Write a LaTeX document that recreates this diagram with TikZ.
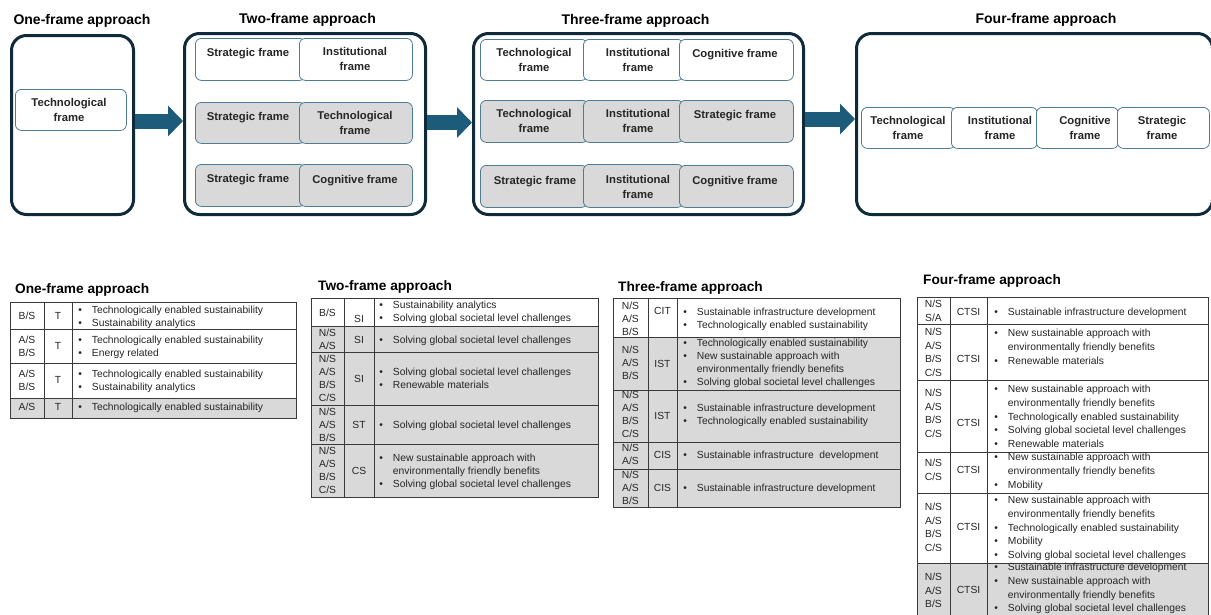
\documentclass[tikz,border=0pt]{standalone}
\usepackage{fontspec}
\setmainfont{Liberation Sans}
\usetikzlibrary{arrows.meta}
\definecolor{navy}{HTML}{0E2A3B}
\definecolor{cellb}{HTML}{4F7C95}
\definecolor{arrc}{HTML}{1D5B7B}
\definecolor{gfill}{HTML}{D9D9D9}
\definecolor{tl}{HTML}{3A3A3A}
\definecolor{txt}{HTML}{262626}
\newcommand\bul[1]{\makebox[13.5pt][l]{\textbullet}#1}
\newcommand\bcont[1]{\hspace*{13.5pt}#1}
\newcommand\trow[7]{\draw[tline, fill=#7] (#1,#5) rectangle (#4,#6); \draw[tline] (#2,#5) -- (#2,#6) (#3,#5) -- (#3,#6);}
\newcommand\rtext[7]{%
  \node[ct] (#1a) at (\xa,#2-3.9) {#5};
  \node[ct] (#1b) at (\xb,#3-3.9) {#6};
  \node[bt] (#1c) at (\xc,#4-3.9) {#7};}
\begin{document}
\begin{tikzpicture}[x=1pt,y=-1pt,
 bigbox/.style={draw=navy, line width=3pt, rounded corners=15pt, anchor=north west, inner sep=0},
 fcell/.style={draw=cellb, line width=0.8pt, rounded corners=6pt, anchor=north west, inner sep=0},
 ftext/.style={font=\bfseries\fontsize{11.3}{15}\selectfont, align=center, inner sep=0, text=txt},
 ttl/.style={font=\bfseries\fontsize{14}{16}\selectfont, anchor=base, inner sep=0, text=black},
 btl/.style={font=\bfseries\fontsize{13.7}{16}\selectfont, anchor=base west, inner sep=0, text=black},
 arr/.style={draw=arrc, line width=15pt, -{Triangle[length=15pt 0,width=30pt 0]}},
 tline/.style={draw=tl, line width=0.8pt},
 ct/.style={font=\fontsize{10.3}{13}\selectfont, align=center, inner sep=0, anchor=north, text=txt},
 bt/.style={font=\fontsize{10.3}{13}\selectfont, align=left, inner sep=0, anchor=north west, text=txt},
]
\useasboundingbox (0,0) rectangle (1211,614);
\clip (0,0) rectangle (1211,614);
\fill[white] (0,0) rectangle (1211,614);

% ---------- top titles ----------
\node[ttl] (tt1) at (82,24.3) {One-frame approach};
\node[ttl] (tt2) at (307.5,23.5) {Two-frame approach};
\node[ttl] (tt3) at (635.5,24) {Three-frame approach};
\node[ttl] (tt4) at (1046,23.5) {Four-frame approach};

% ---------- big boxes ----------
\node[bigbox, minimum width=122pt, minimum height=179pt] (b1) at (10,34) {};
\node[bigbox, minimum width=241pt, minimum height=181pt] (b2) at (183,32) {};
\node[bigbox, minimum width=330pt, minimum height=181pt] (b3) at (472,32) {};
\node[bigbox, minimum width=356pt, minimum height=181pt] (b4) at (855,32) {};

% ---------- arrows ----------
\draw[arr] ([yshift=4pt]b1.east) -- ([yshift=4pt]b1.east -| b2.west);
\draw[arr] ([yshift=1.5pt]b2.east) -- ([yshift=1.5pt]b2.east -| b3.west);
\draw[arr] ([yshift=5pt]b3.east) -- ([yshift=5pt]b3.east -| b4.west);

% ---------- one-frame ----------
\node[fcell, fill=white, minimum width=111pt, minimum height=41pt] (c11) at (15,89) {};
\node[ftext] (c11t) at (69,110) {Technological\\frame};

% ---------- two-frame ----------
\node[fcell, fill=white, minimum width=110pt, minimum height=42pt] (c21) at (195,38) {};
\node[fcell, fill=white, minimum width=113pt, minimum height=42pt] (c22) at (299,38) {};
\node[fcell, fill=gfill, minimum width=110pt, minimum height=41pt] (c23) at (195,102) {};
\node[fcell, fill=gfill, minimum width=113pt, minimum height=41pt] (c24) at (299,102) {};
\node[fcell, fill=gfill, minimum width=110pt, minimum height=42pt] (c25) at (195,164) {};
\node[fcell, fill=gfill, minimum width=113pt, minimum height=42pt] (c26) at (299,164) {};
\node[ftext] (c21t) at (248,54) {Strategic frame};
\node[ftext] (c22t) at (355,59) {Institutional\\frame};
\node[ftext] (c23t) at (248,118) {Strategic frame};
\node[ftext] (c24t) at (355,123) {Technological\\frame};
\node[ftext] (c25t) at (248,180) {Strategic frame};
\node[ftext] (c26t) at (355,181) {Cognitive frame};

% ---------- three-frame ----------
\node[fcell, fill=white, minimum width=107pt, minimum height=41pt] (c31) at (480,39) {};
\node[fcell, fill=white, minimum width=100pt, minimum height=41pt] (c32) at (583,39) {};
\node[fcell, fill=white, minimum width=114pt, minimum height=41pt] (c33) at (679,39) {};
\node[fcell, fill=gfill, minimum width=108pt, minimum height=42pt] (c34) at (480,100) {};
\node[fcell, fill=gfill, minimum width=100pt, minimum height=42pt] (c35) at (583,100) {};
\node[fcell, fill=gfill, minimum width=114pt, minimum height=42pt] (c36) at (679,100) {};
\node[fcell, fill=gfill, minimum width=107pt, minimum height=42pt] (c37) at (480,165) {};
\node[fcell, fill=gfill, minimum width=100pt, minimum height=43pt] (c38) at (583,164) {};
\node[fcell, fill=gfill, minimum width=114pt, minimum height=42pt] (c39) at (679,165) {};
\node[ftext] (c31t) at (534,60) {Technological\\frame};
\node[ftext] (c32t) at (638,60) {Institutional\\frame};
\node[ftext] (c33t) at (735,55) {Cognitive frame};
\node[ftext] (c34t) at (534,121) {Technological\\frame};
\node[ftext] (c35t) at (638,121) {Institutional\\frame};
\node[ftext] (c36t) at (735,116) {Strategic frame};
\node[ftext] (c37t) at (535,182) {Strategic frame};
\node[ftext] (c38t) at (638,186.5) {Institutional\\frame};
\node[ftext] (c39t) at (735,182) {Cognitive frame};

% ---------- four-frame ----------
\node[fcell, fill=white, minimum width=94pt, minimum height=41pt] (c41) at (861,107) {};
\node[fcell, fill=white, minimum width=86pt, minimum height=41pt] (c42) at (951,107) {};
\node[fcell, fill=white, minimum width=82pt, minimum height=41pt] (c43) at (1036,107) {};
\node[fcell, fill=white, minimum width=92pt, minimum height=41pt] (c44) at (1117,107) {};
\node[ftext] (c41t) at (908,128) {Technological\\frame};
\node[ftext] (c42t) at (1000,128) {Institutional\\frame};
\node[ftext] (c43t) at (1085,128) {Cognitive\\frame};
\node[ftext] (c44t) at (1162,128) {Strategic\\frame};

% ================= bottom tables =================
% ----- table 1 -----
\node[btl] (bt1) at (15,293) {One-frame approach};
\trow{10}{44}{72}{296}{302}{329}{white}
\trow{10}{44}{72}{296}{329}{363}{white}
\trow{10}{44}{72}{296}{363}{398}{white}
\trow{10}{44}{72}{296}{398}{418}{gfill}
\def\xa{27}\def\xb{58}\def\xc{78.25}
\rtext{ta1}{316}{316}{310}{B/S}{T}{\bul{Technologically enabled sustainability}\\\bul{Sustainability analytics}}
\rtext{ta2}{340}{346}{340}{A/S\\B/S}{T}{\bul{Technologically enabled sustainability}\\\bul{Energy related}}
\rtext{ta3}{374}{380}{374}{A/S\\B/S}{T}{\bul{Technologically enabled sustainability}\\\bul{Sustainability analytics}}
\rtext{ta4}{407}{407}{407}{A/S}{T}{\bul{Technologically enabled sustainability}}

% ----- table 2 -----
\node[btl] (bt2) at (318,290) {Two-frame approach};
\trow{311}{344}{374}{598}{298}{326}{white}
\trow{311}{344}{374}{598}{326}{352}{gfill}
\trow{311}{344}{374}{598}{352}{405}{gfill}
\trow{311}{344}{374}{598}{405}{444}{gfill}
\trow{311}{344}{374}{598}{444}{497}{gfill}
\def\xa{327.5}\def\xb{359}\def\xc{379.25}
\rtext{tb1}{313}{319}{305}{B/S}{SI}{\bul{Sustainability analytics}\\\bul{Solving global societal level challenges}}
\rtext{tb2}{333}{340}{340}{N/S\\A/S}{SI}{\bul{Solving global societal level challenges}}
\rtext{tb3}{359}{379}{372}{N/S\\A/S\\B/S\\C/S}{SI}{\bul{Solving global societal level challenges}\\\bul{Renewable materials}}
\rtext{tb4}{412}{425}{425}{N/S\\A/S\\B/S}{ST}{\bul{Solving global societal level challenges}}
\rtext{tb5}{451}{471}{458}{N/S\\A/S\\B/S\\C/S}{CS}{\bul{New sustainable approach with}\\\bcont{environmentally friendly benefits}\\\bul{Solving global societal level challenges}}

% ----- table 3 -----
\node[btl] (bt3) at (618,291) {Three-frame approach};
\trow{613}{648}{677}{900}{298}{337}{white}
\trow{613}{648}{677}{900}{337}{390}{gfill}
\trow{613}{648}{677}{900}{390}{442}{gfill}
\trow{613}{648}{677}{900}{442}{469}{gfill}
\trow{613}{648}{677}{900}{469}{507}{gfill}
\def\xa{630.5}\def\xb{662.5}\def\xc{683.25}
\rtext{tc1}{306}{311}{312}{N/S\\A/S\\B/S}{CIT}{\bul{Sustainable infrastructure development}\\\bul{Technologically enabled sustainability}}
\rtext{tc2}{350}{364}{343}{N/S\\A/S\\B/S}{IST}{\bul{Technologically enabled sustainability}\\\bul{New sustainable approach with}\\\bcont{environmentally friendly benefits}\\\bul{Solving global societal level challenges}}
\rtext{tc3}{395}{416}{408}{N/S\\A/S\\B/S\\C/S}{IST}{\bul{Sustainable infrastructure development}\\\bul{Technologically enabled sustainability}}
\rtext{tc4}{448}{455}{455}{N/S\\A/S}{CIS}{\bul{Sustainable infrastructure\ \ development}}
\rtext{tc5}{475}{488}{488}{N/S\\A/S\\B/S}{CIS}{\bul{Sustainable infrastructure development}}

% ----- table 4 -----
\node[btl] (bt4) at (923,284) {Four-frame approach};
\begin{scope}
\tikzset{ct/.append style={font=\fontsize{10.3}{13.5}\selectfont},
         bt/.append style={font=\fontsize{10.3}{13.7}\selectfont}}
\trow{917}{950}{987}{1208}{297}{324}{white}
\trow{917}{950}{987}{1208}{324}{380}{white}
\trow{917}{950}{987}{1208}{380}{452}{white}
\trow{917}{950}{987}{1208}{452}{493}{white}
\trow{917}{950}{987}{1208}{493}{563}{white}
\trow{917}{950}{987}{1208}{563}{640}{gfill}
\def\xa{933.5}\def\xb{968.5}\def\xc{994.25}
\rtext{td1}{304}{312}{312}{N/S\\S/A}{CTSI}{\bul{Sustainable infrastructure development}}
\rtext{td2}{332}{359}{333}{N/S\\A/S\\B/S\\C/S}{CTSI}{\bul{New sustainable approach with}\\\bcont{environmentally friendly benefits}\\\bul{Renewable materials}}
\rtext{td3}{393}{423}{389}{N/S\\A/S\\B/S\\C/S}{CTSI}{\bul{New sustainable approach with}\\\bcont{environmentally friendly benefits}\\\bul{Technologically enabled sustainability}\\\bul{Solving global societal level challenges}\\\bul{Renewable materials}}
\rtext{td4}{463}{470}{457}{N/S\\C/S}{CTSI}{\bul{New sustainable approach with}\\\bcont{environmentally friendly benefits}\\\bul{Mobility}}
\rtext{td5}{507}{527}{500}{N/S\\A/S\\B/S\\C/S}{CTSI}{\bul{New sustainable approach with}\\\bcont{environmentally friendly benefits}\\\bul{Technologically enabled sustainability}\\\bul{Mobility}\\\bul{Solving global societal level challenges}}
\rtext{td6}{577}{590}{567}{N/S\\A/S\\B/S}{CTSI}{\bul{Sustainable infrastructure development}\\\bul{New sustainable approach with}\\\bcont{environmentally friendly benefits}\\\bul{Solving global societal level challenges}}
\end{scope}
\end{tikzpicture}
\end{document}
